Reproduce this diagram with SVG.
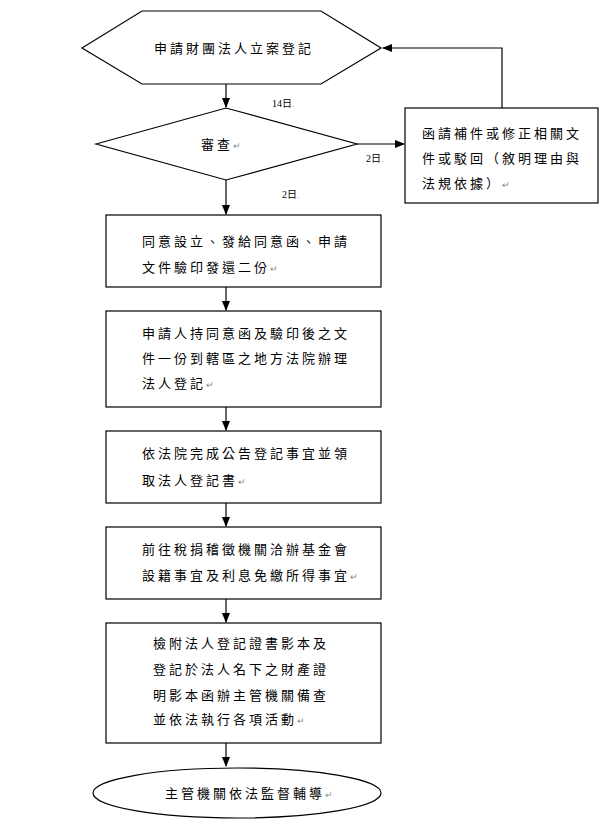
<svg xmlns="http://www.w3.org/2000/svg" width="605" height="821" viewBox="0 0 605 821">
<defs>
<marker id="ah" markerWidth="10" markerHeight="8" refX="9" refY="4" orient="auto" markerUnits="userSpaceOnUse"><path d="M0,0 L10,4 L0,8 z" fill="#000"/></marker>
<style>
.s{fill:#fff;stroke:#000;stroke-width:1.2}
.t{font-family:"Liberation Serif","Noto Sans CJK TC",serif;font-size:13px;letter-spacing:3px;fill:#000}
.n{font-family:"Liberation Serif","Noto Sans CJK TC",serif;font-size:10px;fill:#000}
.p{font-size:9px;fill:#888;letter-spacing:0}
.c{fill:none;stroke:#000;stroke-width:1.2}
</style>
</defs>
<rect width="605" height="821" fill="#fff"/>
<g id="connectors">
<line class="c" x1="226" y1="84" x2="226" y2="107" marker-end="url(#ah)"/>
<line class="c" x1="357" y1="144" x2="404" y2="144" marker-end="url(#ah)"/>
<polyline class="c" points="502,108 502,48 383,48" marker-end="url(#ah)"/>
<line class="c" x1="226" y1="180" x2="226" y2="214" marker-end="url(#ah)"/>
<line class="c" x1="226" y1="287" x2="226" y2="310" marker-end="url(#ah)"/>
<line class="c" x1="226" y1="407" x2="226" y2="430" marker-end="url(#ah)"/>
<line class="c" x1="226" y1="503" x2="226" y2="526" marker-end="url(#ah)"/>
<line class="c" x1="226" y1="599" x2="226" y2="622" marker-end="url(#ah)"/>
<line class="c" x1="226" y1="743" x2="226" y2="766" marker-end="url(#ah)"/>
<text class="n" x="272" y="107">14日<tspan class="p">.</tspan></text>
<text class="n" x="366" y="162">2日<tspan class="p">.</tspan></text>
<text class="n" x="282" y="198">2日<tspan class="p">.</tspan></text>
</g>
<g id="start">
<polygon class="s" points="82,48 142,11 321,11 381,48 321,84 142,84"/>
<text class="t" x="154" y="53">申請財團法人立案登記</text>
</g>
<g id="review">
<polygon class="s" points="96,144 226,108 357,144 226,180"/>
<text class="t" x="201" y="149">審查<tspan class="p">↵</tspan></text>
</g>
<g id="supplement">
<rect class="s" x="405" y="108" width="193" height="95"/>
<text class="t" x="422" y="138">函請補件或修正相關文</text>
<text class="t" x="422" y="163">件或駁回（敘明理由與</text>
<text class="t" x="422" y="188">法規依據）<tspan class="p">↵</tspan></text>
</g>
<g id="box1">
<rect class="s" x="106" y="215" width="275" height="72"/>
<text class="t" x="142" y="246">同意設立、發給同意函、申請</text>
<text class="t" x="142" y="272">文件驗印發還二份<tspan class="p">↵</tspan></text>
</g>
<g id="box2">
<rect class="s" x="106" y="311" width="275" height="96"/>
<text class="t" x="142" y="338">申請人持同意函及驗印後之文</text>
<text class="t" x="142" y="363">件一份到轄區之地方法院辦理</text>
<text class="t" x="142" y="388">法人登記<tspan class="p">↵</tspan></text>
</g>
<g id="box3">
<rect class="s" x="106" y="431" width="275" height="72"/>
<text class="t" x="142" y="458">依法院完成公告登記事宜並領</text>
<text class="t" x="142" y="485">取法人登記書<tspan class="p">↵</tspan></text>
</g>
<g id="box4">
<rect class="s" x="106" y="527" width="275" height="72"/>
<text class="t" x="142" y="554">前往稅捐稽徵機關洽辦基金會</text>
<text class="t" x="142" y="580">設籍事宜及利息免繳所得事宜<tspan class="p">↵</tspan></text>
</g>
<g id="box5">
<rect class="s" x="106" y="623" width="275" height="120"/>
<text class="t" x="153" y="648">檢附法人登記證書影本及</text>
<text class="t" x="153" y="674">登記於法人名下之財產證</text>
<text class="t" x="153" y="700">明影本函辦主管機關備查</text>
<text class="t" x="153" y="724">並依法執行各項活動<tspan class="p">↵</tspan></text>
</g>
<g id="end">
<ellipse class="s" cx="237" cy="793" rx="144" ry="25"/>
<text class="t" x="165" y="798">主管機關依法監督輔導<tspan class="p">↵</tspan></text>
</g>
</svg>
